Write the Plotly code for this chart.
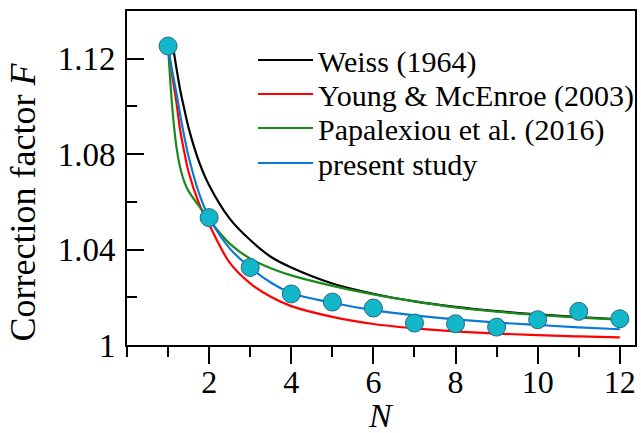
import plotly.graph_objects as go

# ---- data ----
obs_N = [1, 2, 3, 4, 5, 6, 7, 8, 9, 10, 11, 12]
obs_F = [1.1253, 1.0534, 1.0325, 1.0214, 1.0180, 1.0155, 1.0092, 1.0089, 1.0075, 1.0106, 1.0141, 1.0110]

curve_N = [1.0, 1.1, 1.2, 1.3, 1.4, 1.5, 1.75, 2.0, 2.5, 3.0, 3.5, 4.0, 5.0, 6.0, 7.0, 8.0, 9.0, 10.0, 11.0, 12.0]
weiss_N = [1.1, 1.2, 1.3, 1.4, 1.5, 1.75, 2.0, 2.5, 3.0, 3.5, 4.0, 5.0, 6.0, 7.0, 8.0, 9.0, 10.0, 11.0, 12.0]
weiss_F = [1.1275, 1.1165, 1.1065, 1.0985, 1.0910, 1.0770, 1.0670, 1.0530, 1.0440, 1.0370, 1.0325, 1.0258, 1.0215, 1.0183, 1.0160, 1.0142, 1.0128, 1.0117, 1.0108]
young_F = [1.1250, 1.1130, 1.1020, 1.0895, 1.0805, 1.0725, 1.0595, 1.0505, 1.0345, 1.0258, 1.0202, 1.0163, 1.0118, 1.0088, 1.0070, 1.0057, 1.0048, 1.0041, 1.0036, 1.0032]
papa_F = [1.1250, 1.1000, 1.0835, 1.0740, 1.0682, 1.0645, 1.0583, 1.0525, 1.0425, 1.0362, 1.0322, 1.0292, 1.0248, 1.0212, 1.0183, 1.0158, 1.0140, 1.0126, 1.0115, 1.0106]
present_F = [1.1250, 1.1150, 1.1060, 1.0960, 1.0870, 1.0790, 1.0638, 1.0534, 1.0405, 1.0325, 1.0262, 1.0218, 1.0177, 1.0146, 1.0124, 1.0107, 1.0094, 1.0084, 1.0074, 1.0066]

x_ticks = [2, 4, 6, 8, 10, 12]
y_ticks = [1.00, 1.04, 1.08, 1.12]
y_labels = ["1", "1.04", "1.08", "1.12"]

names = ["Weiss (1964)", "Young &amp; McEnroe (2003)", "Papalexiou et al. (2016)", "present study"]
colors = ["#000000", "#ff0000", "#1a8a1a", "#0a7ad8"]

FONT = "Liberation Serif"

fig = go.Figure()
series = [(weiss_N, weiss_F), (curve_N, young_F), (curve_N, papa_F), (curve_N, present_F)]
legend_ids = ["legend", "legend2", "legend3", "legend4"]
for (xs, ys), nm, col, lg in zip(series, names, colors, legend_ids):
    fig.add_trace(go.Scatter(x=xs, y=ys, mode="lines", name=nm,
                             line=dict(color=col, width=2.2, shape="spline", smoothing=1.0),
                             legend=lg))
fig.add_trace(go.Scatter(x=obs_N, y=obs_F, mode="markers", showlegend=False,
                         marker=dict(size=18, color="#12b7ca", line=dict(color="#2b6585", width=1))))

L, R, T, B = 127, 635, 11, 345
W, H = 641, 433
pw, ph = R - L, B - T

def px_x(p):
    return (p - L) / pw

def px_y(p):
    return (B - p) / ph

row_y = [60, 94, 128, 163]
legends = {}
for lg, yc in zip(legend_ids, row_y):
    legends[lg] = dict(x=px_x(253), y=px_y(yc), xanchor="left", yanchor="middle",
                       bgcolor="rgba(0,0,0,0)", borderwidth=0,
                       font=dict(family=FONT, size=30, color="black"),
                       itemwidth=55)

fig.update_layout(
    width=W, height=H,
    margin=dict(l=L, r=W - R, t=T, b=H - B, autoexpand=False),
    paper_bgcolor="white", plot_bgcolor="white",
    font=dict(family=FONT, color="black"),
    **legends,
)
fig.update_xaxes(range=[0, 12.37], tickvals=x_ticks, ticks="outside", ticklen=17, tickwidth=2,
                 tickcolor="black", showline=True, linewidth=2, linecolor="black", mirror=True,
                 showgrid=False, zeroline=False, tickfont=dict(family=FONT, size=32, color="black"),
                 ticklabelstandoff=-9,
                 minor=dict(dtick=1, tick0=1, ticks="outside", ticklen=10, tickwidth=2, tickcolor="black"))
fig.update_yaxes(range=[1, 1.14], tickvals=y_ticks, ticktext=y_labels, ticks="inside", ticklen=17, tickwidth=2,
                 tickcolor="black", showline=True, linewidth=2, linecolor="black", mirror=True,
                 showgrid=False, zeroline=False, tickfont=dict(family=FONT, size=33, color="black"),
                 ticklabelstandoff=3,
                 minor=dict(dtick=0.02, tick0=1.02, ticks="inside", ticklen=10, tickwidth=2, tickcolor="black"))

fig.add_annotation(text="Correction factor <i>F</i>", textangle=-90, xref="paper", yref="paper",
                   x=px_x(22.5), y=px_y(202), xanchor="center", yanchor="middle", showarrow=False,
                   font=dict(family=FONT, size=36, color="black"))
fig.add_annotation(text="<i>N</i>", xref="paper", yref="paper",
                   x=px_x(381), y=px_y(415), xanchor="center", yanchor="middle", showarrow=False,
                   font=dict(family=FONT, size=34, color="black"))

fig.write_html("out.html", config={"displayModeBar": False},
               post_script="document.body.style.margin='0';document.body.style.padding='0';document.body.style.overflow='hidden';")
